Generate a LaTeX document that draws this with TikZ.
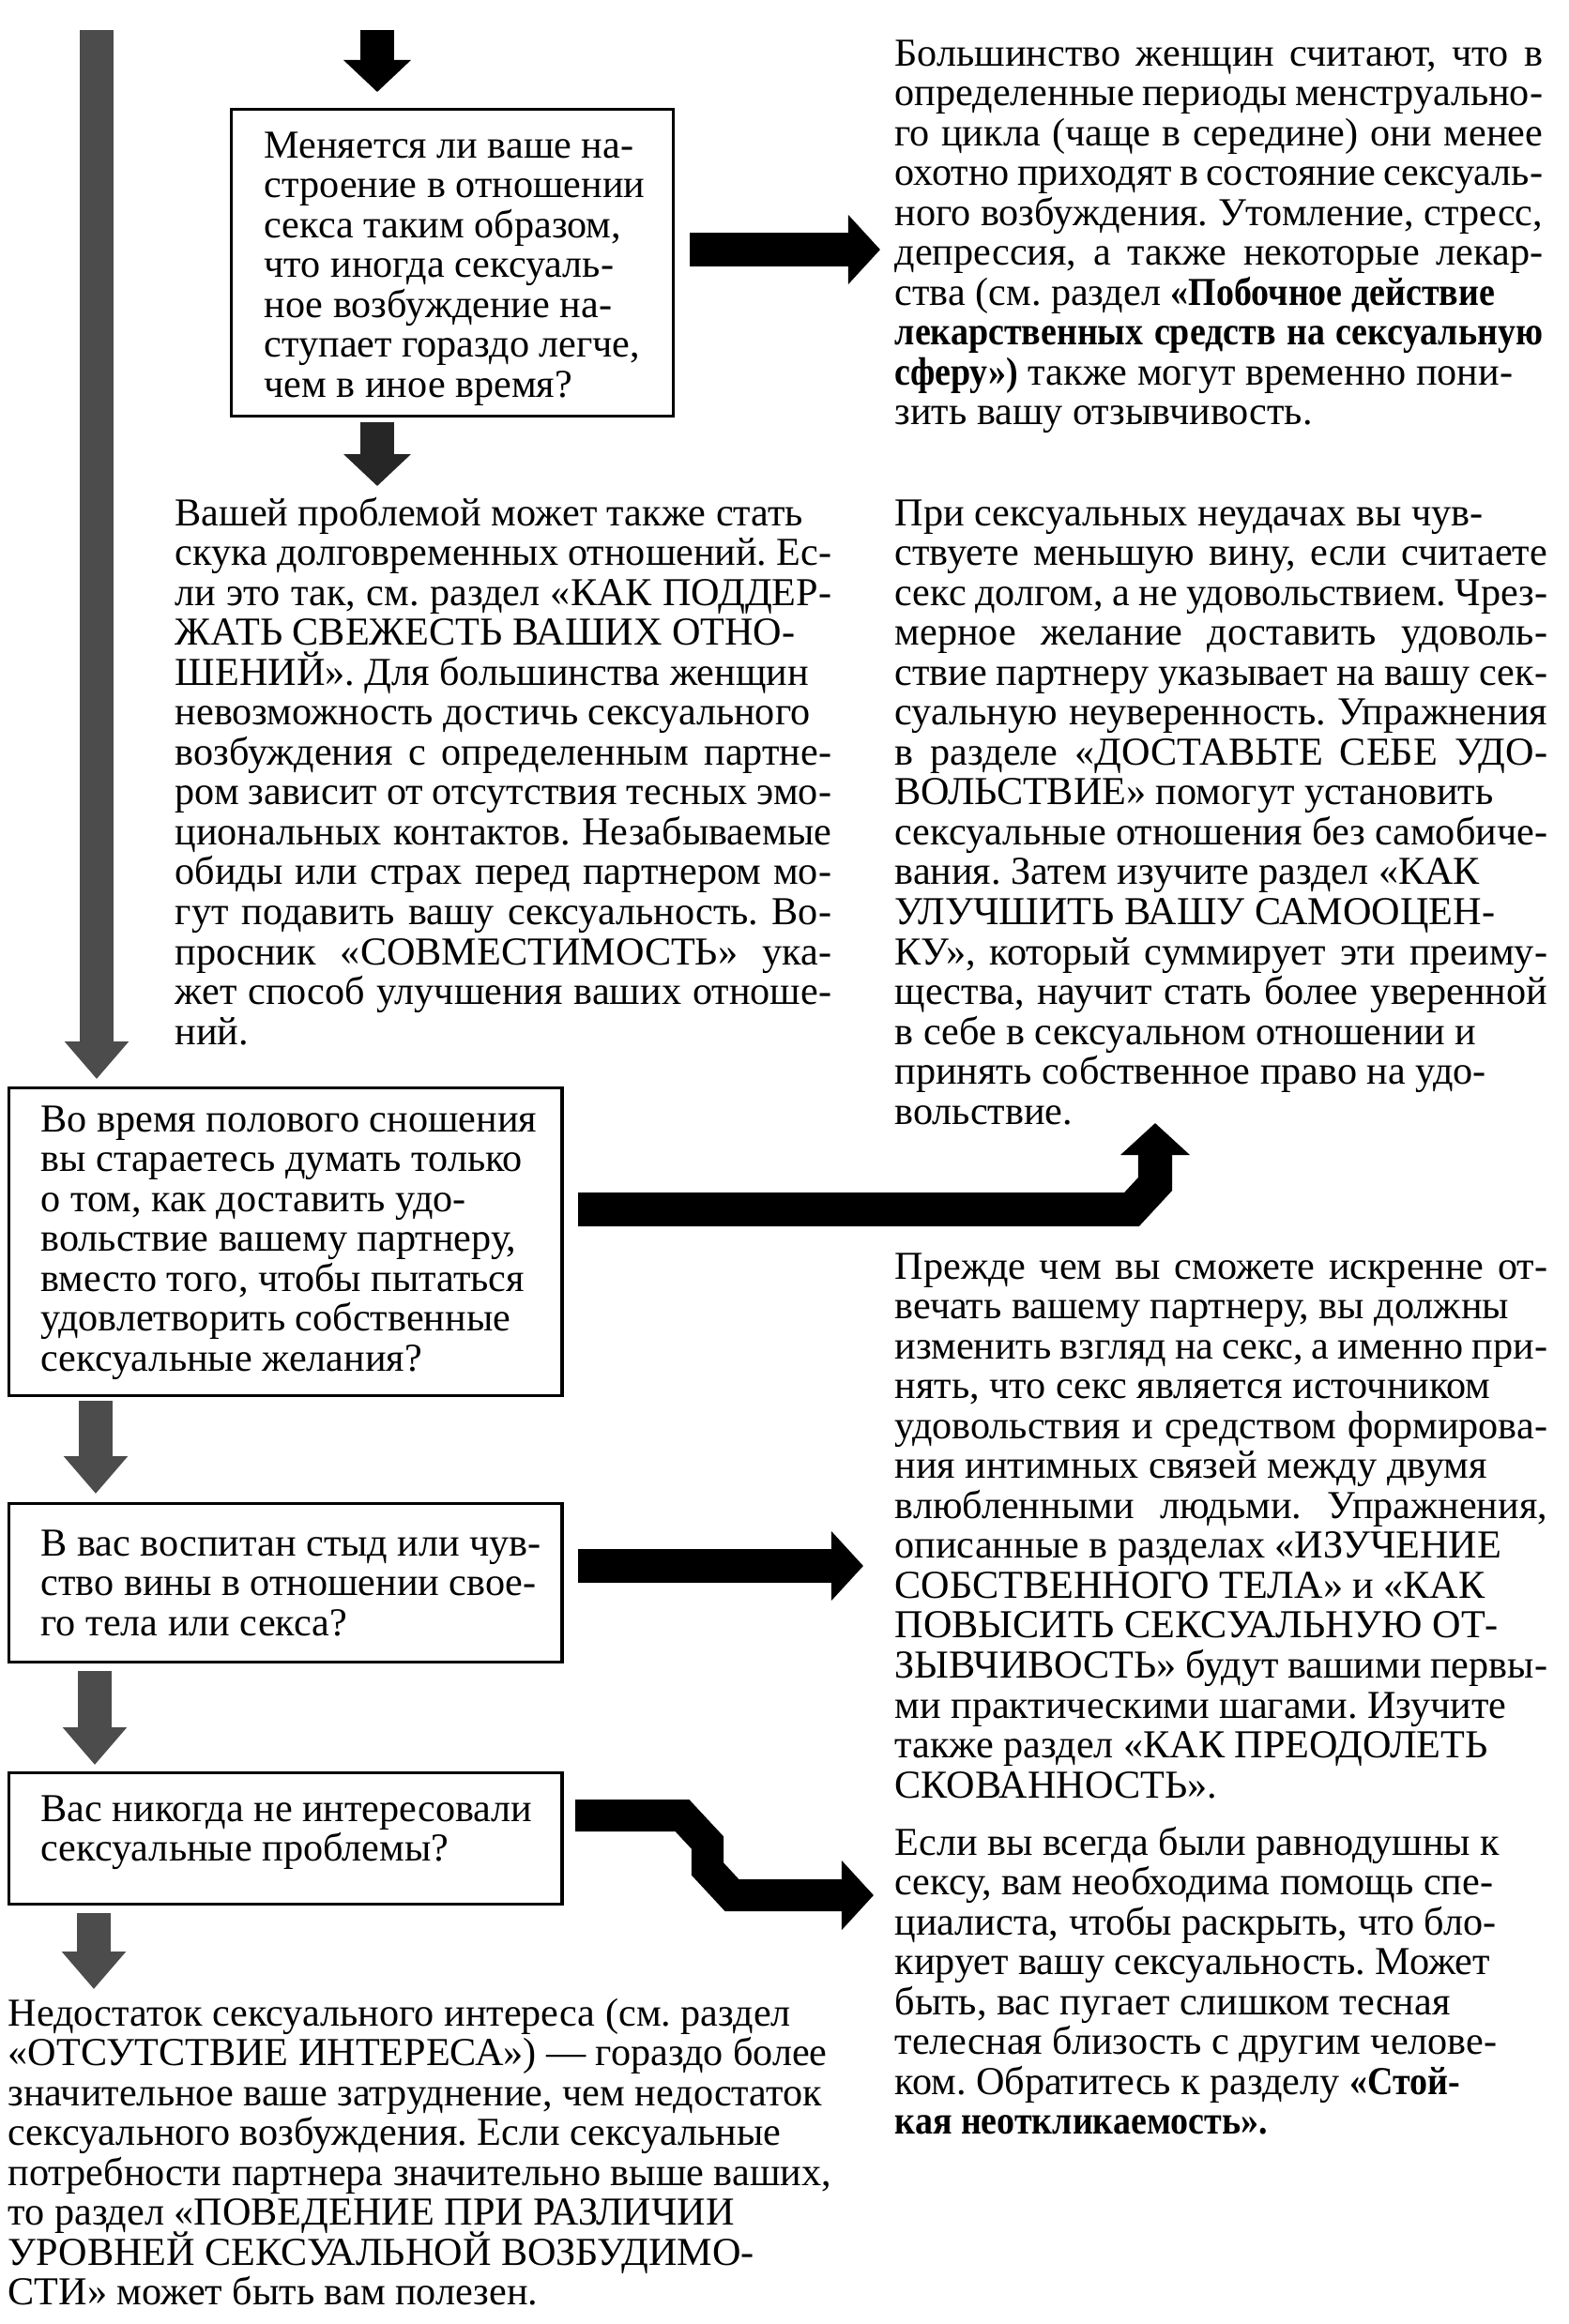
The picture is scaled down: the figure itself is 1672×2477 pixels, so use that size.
\documentclass[tikz,border=0pt]{standalone}
\usepackage{fontspec}
\setmainfont{Liberation Serif}
\newfontfamily\cbfam[FakeStretch=0.9]{Liberation Serif}
\newcommand{\B}[1]{{\cbfam\bfseries #1}}
\usetikzlibrary{arrows.meta}
\newlength\jw
\newcommand{\J}[1]{\makebox[\jw][s]{#1}}
\newcommand{\lns}[1]{\vtop{\frenchspacing\baselineskip=12.1pt\lineskiplimit=-30pt\lineskip=0pt\halign{##\hfil\cr#1\crcr}}}
\tikzset{
  txt/.style={anchor=base west, inner sep=0pt, font=\fontsize{12}{12.1}\selectfont},
  qbox/.style={draw=black, line width=0.9pt, anchor=north west, inner sep=0pt},
  garr/.style={line width=0.35cm, draw=black!70, -{Triangle[length=0.40cm, width=0.66cm]}},
  karr/.style={line width=0.35cm, draw=black, -{Triangle[length=0.34cm, width=0.70cm]}},
  barr/.style={line width=0.36cm, draw=black, line join=miter, -{Triangle[length=0.34cm, width=0.72cm]}},
}
\begin{document}
\begin{tikzpicture}[x=0.01cm, y=-0.01cm]
\useasboundingbox (0,0) rectangle (1672,2477);

% question boxes
\node[qbox, minimum width=4.71cm, minimum height=3.27cm] (q1) at (245,115) {};
\node[qbox, minimum width=5.89cm, minimum height=3.28cm] (q2) at (8,1158) {};
\node[qbox, minimum width=5.89cm, minimum height=1.69cm] (q3) at (8,1601) {};
\node[qbox, minimum width=5.89cm, minimum height=1.40cm] (q4) at (8,1888) {};

\node[txt] (q1t) at (281,168) {\lns{
Меняется ли ваше на-\cr
строение в отношении\cr
секса таким образом,\cr
что иногда сексуаль-\cr
ное возбуждение на-\cr
ступает гораздо легче,\cr
чем в иное время?}};

\node[txt] (q2t) at (43,1206) {\lns{
Во время полового сношения\cr
вы стараетесь думать только\cr
о том, как доставить удо-\cr
вольствие вашему партнеру,\cr
вместо того, чтобы пытаться\cr
удовлетворить собственные\cr
сексуальные желания?}};

\node[txt] (q3t) at (43,1658) {\lns{
В вас воспитан стыд или чув-\cr
ство вины в отношении свое-\cr
го тела или секса?}};

\node[txt] (q4t) at (43,1941) {\lns{
Вас никогда не интересовали\cr
сексуальные проблемы?}};

% answer texts
\node[txt] (r1) at (953,70) {\setlength\jw{6.90cm}\lns{
\J{Большинство женщин считают, что в}\cr
\J{определенные периоды менструально-}\cr
\J{го цикла (чаще в середине) они менее}\cr
\J{охотно приходят в состояние сексуаль-}\cr
\J{ного возбуждения. Утомление, стресс,}\cr
\J{депрессия, а также некоторые лекар-}\cr
ства (см. раздел \B{«Побочное действие}\cr
\J{\B{лекарственных средств на сексуальную}}\cr
\B{сферу»)} также могут временно пони-\cr
зить вашу отзывчивость.}};

\node[txt] (l1) at (186,560) {\setlength\jw{6.99cm}\lns{
Вашей проблемой может также стать\cr
\J{скука долговременных отношений. Ес-}\cr
\J{ли это так, см. раздел «КАК ПОДДЕР-}\cr
ЖАТЬ СВЕЖЕСТЬ ВАШИХ ОТНО-\cr
ШЕНИЙ». Для большинства женщин\cr
невозможность достичь сексуального\cr
\J{возбуждения с определенным партне-}\cr
\J{ром зависит от отсутствия тесных эмо-}\cr
\J{циональных контактов. Незабываемые}\cr
\J{обиды или страх перед партнером мо-}\cr
\J{гут подавить вашу сексуальность. Во-}\cr
\J{просник «СОВМЕСТИМОСТЬ» ука-}\cr
\J{жет способ улучшения ваших отноше-}\cr
ний.}};

\node[txt] (r2) at (953,560) {\setlength\jw{6.95cm}\lns{
При сексуальных неудачах вы чув-\cr
\J{ствуете меньшую вину, если считаете}\cr
\J{секс долгом, а не удовольствием. Чрез-}\cr
\J{мерное желание доставить удоволь-}\cr
\J{ствие партнеру указывает на вашу сек-}\cr
\J{суальную неуверенность. Упражнения}\cr
\J{в разделе «ДОСТАВЬТЕ СЕБЕ УДО-}\cr
ВОЛЬСТВИЕ» помогут установить\cr
\J{сексуальные отношения без самобиче-}\cr
вания. Затем изучите раздел «КАК\cr
УЛУЧШИТЬ ВАШУ САМООЦЕН-\cr
\J{КУ», который суммирует эти преиму-}\cr
\J{щества, научит стать более уверенной}\cr
в себе в сексуальном отношении и\cr
принять собственное право на удо-\cr
вольствие.}};

\node[txt] (r3) at (953,1363) {\setlength\jw{6.95cm}\lns{
\J{Прежде чем вы сможете искренне от-}\cr
вечать вашему партнеру, вы должны\cr
\J{изменить взгляд на секс, а именно при-}\cr
нять, что секс является источником\cr
\J{удовольствия и средством формирова-}\cr
ния интимных связей между двумя\cr
\J{влюбленными людьми. Упражнения,}\cr
описанные в разделах «ИЗУЧЕНИЕ\cr
СОБСТВЕННОГО ТЕЛА» и «КАК\cr
ПОВЫСИТЬ СЕКСУАЛЬНУЮ ОТ-\cr
\J{ЗЫВЧИВОСТЬ» будут вашими первы-}\cr
ми практическими шагами. Изучите\cr
также раздел «КАК ПРЕОДОЛЕТЬ\cr
СКОВАННОСТЬ».}};

\node[txt] (r4) at (953,1977) {\lns{
Если вы всегда были равнодушны к\cr
сексу, вам необходима помощь спе-\cr
циалиста, чтобы раскрыть, что бло-\cr
кирует вашу сексуальность. Может\cr
быть, вас пугает слишком тесная\cr
телесная близость с другим челове-\cr
ком. Обратитесь к разделу \B{«Стой-}\cr
\B{кая неоткликаемость».}}};

\node[txt] (b1) at (8,2159) {\lns{
Недостаток сексуального интереса (см. раздел\cr
«ОТСУТСТВИЕ ИНТЕРЕСА») — гораздо более\cr
значительное ваше затруднение, чем недостаток\cr
сексуального возбуждения. Если сексуальные\cr
потребности партнера значительно выше ваших,\cr
то раздел «ПОВЕДЕНИЕ ПРИ РАЗЛИЧИИ\cr
УРОВНЕЙ СЕКСУАЛЬНОЙ ВОЗБУДИМО-\cr
СТИ» может быть вам полезен.}};

% connector end points
\coordinate (topin) at (402,32);
\coordinate (q1in) at (402,98);
\coordinate (q1out) at (402,450);
\coordinate (l1in) at (402,518);
\coordinate (barTop) at (103,32);
\coordinate (q2in) at (103,1150);
\coordinate (q2out) at (102,1493);
\coordinate (q3in) at (102,1592);
\coordinate (q3out) at (101,1781);
\coordinate (q4in) at (101,1881);
\coordinate (q4out) at (100,2039);
\coordinate (b1in) at (100,2120);
\coordinate (q1r) at (735,266);
\coordinate (r1in) at (938,266);
\coordinate (q2r) at (616,1289);
\coordinate (bendA) at (1206,1289);
\coordinate (bendB) at (1231,1262);
\coordinate (r2in) at (1231,1197);
\coordinate (q3r) at (616,1669);
\coordinate (r3in) at (920,1669);
\coordinate (q4r) at (613,1935);
\coordinate (zA) at (727,1935);
\coordinate (zB) at (754,1964);
\coordinate (zC) at (754,1992);
\coordinate (zD) at (780,2020);
\coordinate (r4in) at (931,2020);

% down connectors
\draw[karr] (topin) -- (q1in);
\draw[karr, draw=black!85] (q1out) -- (l1in);
\draw[garr] (barTop) -- (q2in);
\draw[garr] (q2out) -- (q3in);
\draw[garr] (q3out) -- (q4in);
\draw[garr] (q4out) -- (b1in);

% right connectors
\draw[barr] (q1r) -- (r1in);
\draw[barr] (q2r) -- (bendA) -- (bendB) -- (r2in);
\draw[barr] (q3r) -- (r3in);
\draw[barr, line width=0.34cm] (q4r) -- (zA) -- (zB) -- (zC) -- (zD) -- (r4in);
\end{tikzpicture}
\end{document}
